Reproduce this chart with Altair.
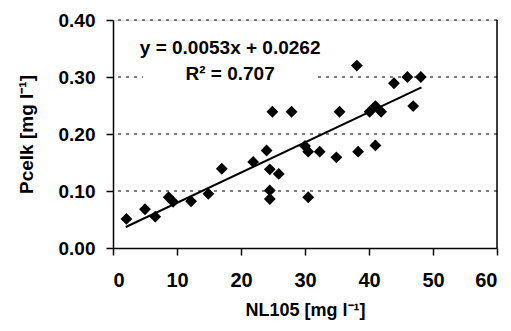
import altair as alt
import pandas as pd

# Data
nl105 = [2.1, 5.0, 6.6, 8.7, 9.4, 12.2, 14.9, 17.0, 21.9, 24.0, 24.5, 24.5, 24.5, 24.9,
         25.9, 27.9, 30.0, 30.5, 30.5, 32.3, 34.9, 35.4, 38.1, 38.3, 40.1, 41.0, 41.0,
         41.9, 43.9, 46.0, 46.9, 48.1]
pcelk = [0.051, 0.068, 0.055, 0.089, 0.081, 0.082, 0.095, 0.139, 0.151, 0.171, 0.138, 0.101,
         0.086, 0.239, 0.130, 0.239, 0.179, 0.169, 0.089, 0.169, 0.159, 0.239, 0.320, 0.169,
         0.239, 0.249, 0.180, 0.239, 0.289, 0.300, 0.249, 0.300]

slope = 0.0053
intercept = 0.0262
trend_x = [2.0, 48.2]
trend_y = [slope * v + intercept for v in trend_x]

grid_levels = [0.1, 0.2, 0.3, 0.4]
x_ticks = [0, 10, 20, 30, 40, 50, 60]
y_ticks = [0.0, 0.1, 0.2, 0.3, 0.4]

eq_lines = ["y = 0.0053x + 0.0262", "R² = 0.707"]
eq_x = [18.3, 18.3]
eq_y = [0.351, 0.305]
box_x = [4.7, 32.0]
box_y = [0.28, 0.38]

FONT = "Liberation Sans"

pts = pd.DataFrame({"x": nl105, "y": pcelk})
trend = pd.DataFrame({"x": trend_x, "y": trend_y})
grid = pd.DataFrame({"y": grid_levels})
eq = pd.DataFrame({"t": eq_lines, "x": eq_x, "y": eq_y})
box = pd.DataFrame({"x": [box_x[0]], "x2": [box_x[1]], "y": [box_y[0]], "y2": [box_y[1]]})

xs = alt.Scale(domain=[0, 60], nice=False, zero=False)
ys = alt.Scale(domain=[0, 0.4], nice=False, zero=False)

x_axis = alt.Axis(title="NL105 [mg l⁻¹]", values=x_ticks, format="d", grid=False,
                  domainColor="black", domainWidth=1.5, tickColor="black", tickSize=7,
                  tickWidth=1.5, labelFont=FONT, labelFontSize=20, labelFontWeight="bold",
                  labelColor="black", labelPadding=15, titleFont=FONT, titleFontSize=18,
                  titleFontWeight="bold", titleColor="black", titlePadding=11)
y_axis = alt.Axis(title="Pcelk [mg l⁻¹]", values=y_ticks, format=".2f", grid=False,
                  domainColor="black", domainWidth=1.5, tickColor="black", tickSize=7,
                  tickWidth=1.5, labelFont=FONT, labelFontSize=19, labelFontWeight="bold",
                  labelColor="black", labelPadding=11, titleFont=FONT, titleFontSize=19,
                  titleFontWeight="bold", titleColor="black", titlePadding=22)

gridlines = alt.Chart(grid).mark_rule(color="black", strokeDash=[3, 5], strokeWidth=1.2).encode(
    y=alt.Y("y:Q", scale=ys, axis=y_axis),
)

right_border = alt.Chart(pd.DataFrame({"x": [60], "y": [0], "y2": [0.4]})).mark_rule(
    color="black", strokeWidth=1.5).encode(
    x=alt.X("x:Q", scale=xs, axis=x_axis), y=alt.Y("y:Q", scale=ys), y2="y2:Q")

whitebox = alt.Chart(box).mark_rect(color="white").encode(
    x=alt.X("x:Q", scale=xs), x2="x2:Q", y=alt.Y("y:Q", scale=ys), y2="y2:Q")

text = alt.Chart(eq).mark_text(font=FONT, fontSize=19, fontWeight="bold", color="black",
                               align="center", baseline="middle").encode(
    x=alt.X("x:Q", scale=xs), y=alt.Y("y:Q", scale=ys), text="t:N")

line = alt.Chart(trend).mark_line(color="black", strokeWidth=2).encode(
    x=alt.X("x:Q", scale=xs), y=alt.Y("y:Q", scale=ys))

points = alt.Chart(pts).mark_point(shape="diamond", filled=True, color="black", size=140,
                                   opacity=1).encode(
    x=alt.X("x:Q", scale=xs), y=alt.Y("y:Q", scale=ys))

chart = alt.layer(gridlines, right_border, whitebox, text, line, points).properties(
    width=384, height=228,
    autosize=alt.AutoSizeParams(type="none"),
    padding={"left": 105, "top": 12, "right": 6, "bottom": 75},
).configure_view(stroke=None).configure(background="white")

chart.save("out.html", embed_options={"renderer": "svg", "actions": False})
